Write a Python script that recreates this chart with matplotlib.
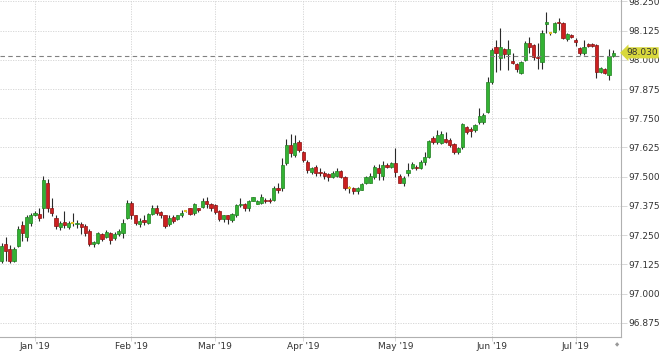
import numpy as np
import pandas as pd
import matplotlib
matplotlib.use("Agg")
import matplotlib.pyplot as plt

# daily OHLC, one per weekday from 2018-12-20 to 2019-07-12
dates = pd.bdate_range("2018-12-20", "2019-07-12")

opens = [97.140, 97.213, 97.192, 97.140, 97.205, 97.295, 97.243, 97.303, 97.338, 97.342,
         97.368, 97.475, 97.364, 97.325, 97.286, 97.308, 97.286, 97.303, 97.299, 97.299,
         97.290, 97.269, 97.213, 97.217, 97.256, 97.243, 97.260, 97.239, 97.256, 97.260,
         97.325, 97.389, 97.334, 97.299, 97.316, 97.303, 97.342, 97.368, 97.351, 97.334,
         97.299, 97.329, 97.321, 97.334, 97.355, 97.364, 97.346, 97.364, 97.372, 97.394,
         97.385, 97.377, 97.355, 97.321, 97.334, 97.316, 97.334, 97.377, 97.385, 97.364,
         97.398, 97.385, 97.389, 97.402, 97.402, 97.402, 97.450, 97.450, 97.557, 97.634,
         97.592, 97.647, 97.604, 97.561, 97.518, 97.540, 97.518, 97.514, 97.510, 97.497,
         97.505, 97.523, 97.497, 97.450, 97.450, 97.437, 97.445, 97.471, 97.475, 97.497,
         97.536, 97.505, 97.549, 97.540, 97.557, 97.505, 97.475, 97.514, 97.536, 97.540,
         97.536, 97.561, 97.583, 97.665, 97.647, 97.643, 97.660, 97.656, 97.639, 97.604,
         97.626, 97.712, 97.703, 97.699, 97.733, 97.733, 97.776, 97.905, 98.056, 98.009,
         98.047, 98.026, 97.996, 97.983, 97.944, 98.000, 98.073, 98.065, 98.013, 97.991,
         98.155, 98.116, 98.120, 98.163, 98.159, 98.090, 98.108, 98.086, 98.052, 98.030,
         98.069, 98.069, 98.065, 97.948, 97.961, 97.935, 98.017]
highs = [97.215, 97.243, 97.209, 97.200, 97.290, 97.312, 97.338, 97.346, 97.355, 97.364,
         97.505, 97.488, 97.407, 97.338, 97.312, 97.355, 97.312, 97.346, 97.316, 97.308,
         97.299, 97.278, 97.226, 97.265, 97.260, 97.273, 97.265, 97.265, 97.278, 97.320,
         97.402, 97.398, 97.338, 97.325, 97.338, 97.346, 97.377, 97.377, 97.355, 97.338,
         97.334, 97.338, 97.338, 97.359, 97.359, 97.368, 97.389, 97.368, 97.407, 97.411,
         97.389, 97.381, 97.359, 97.338, 97.338, 97.346, 97.381, 97.407, 97.389, 97.402,
         97.415, 97.402, 97.424, 97.407, 97.407, 97.458, 97.471, 97.579, 97.660, 97.682,
         97.677, 97.656, 97.608, 97.570, 97.540, 97.549, 97.536, 97.523, 97.514, 97.523,
         97.536, 97.527, 97.501, 97.458, 97.454, 97.454, 97.471, 97.501, 97.514, 97.549,
         97.553, 97.566, 97.557, 97.561, 97.621, 97.510, 97.501, 97.557, 97.561, 97.549,
         97.570, 97.604, 97.656, 97.673, 97.699, 97.695, 97.690, 97.665, 97.643, 97.626,
         97.729, 97.716, 97.712, 97.725, 97.794, 97.772, 97.926, 98.052, 98.086, 98.137,
         98.052, 98.086, 98.030, 97.987, 97.996, 98.082, 98.099, 98.069, 98.073, 98.129,
         98.206, 98.120, 98.163, 98.177, 98.163, 98.116, 98.112, 98.095, 98.056, 98.086,
         98.073, 98.073, 98.069, 97.970, 97.966, 98.047, 98.043]
lows = [97.131, 97.140, 97.131, 97.135, 97.200, 97.226, 97.226, 97.290, 97.330, 97.310,
        97.325, 97.350, 97.330, 97.278, 97.270, 97.282, 97.278, 97.290, 97.282, 97.256,
        97.248, 97.205, 97.200, 97.213, 97.226, 97.239, 97.213, 97.230, 97.248, 97.239,
        97.320, 97.321, 97.295, 97.286, 97.295, 97.299, 97.338, 97.338, 97.325, 97.282,
        97.290, 97.303, 97.316, 97.329, 97.351, 97.334, 97.338, 97.351, 97.364, 97.368,
        97.355, 97.342, 97.312, 97.308, 97.299, 97.308, 97.329, 97.372, 97.355, 97.355,
        97.394, 97.381, 97.381, 97.389, 97.389, 97.398, 97.432, 97.437, 97.549, 97.583,
        97.583, 97.604, 97.561, 97.514, 97.510, 97.505, 97.505, 97.488, 97.480, 97.493,
        97.497, 97.493, 97.445, 97.432, 97.428, 97.428, 97.441, 97.467, 97.471, 97.488,
        97.484, 97.484, 97.536, 97.536, 97.497, 97.471, 97.458, 97.505, 97.531, 97.527,
        97.531, 97.549, 97.579, 97.639, 97.639, 97.639, 97.643, 97.626, 97.596, 97.596,
        97.617, 97.682, 97.669, 97.690, 97.725, 97.725, 97.772, 97.896, 97.948, 97.957,
        98.009, 97.957, 97.983, 97.948, 97.940, 97.996, 98.030, 98.000, 97.961, 97.961,
        98.116, 98.108, 98.116, 98.129, 98.090, 98.082, 98.095, 98.060, 98.022, 98.022,
        98.056, 98.056, 97.922, 97.944, 97.940, 97.913, 98.013]
closes = [97.205, 97.183, 97.140, 97.192, 97.278, 97.260, 97.329, 97.338, 97.346, 97.325,
          97.484, 97.364, 97.346, 97.290, 97.303, 97.295, 97.303, 97.303, 97.303, 97.286,
          97.260, 97.213, 97.222, 97.260, 97.235, 97.265, 97.230, 97.256, 97.269, 97.303,
          97.389, 97.334, 97.303, 97.312, 97.308, 97.342, 97.368, 97.346, 97.334, 97.290,
          97.325, 97.312, 97.334, 97.346, 97.355, 97.342, 97.385, 97.359, 97.394, 97.381,
          97.364, 97.351, 97.321, 97.334, 97.321, 97.342, 97.377, 97.385, 97.364, 97.398,
          97.411, 97.398, 97.411, 97.394, 97.394, 97.450, 97.441, 97.549, 97.634, 97.600,
          97.643, 97.613, 97.570, 97.527, 97.536, 97.514, 97.514, 97.505, 97.497, 97.514,
          97.523, 97.497, 97.450, 97.450, 97.437, 97.450, 97.467, 97.497, 97.505, 97.540,
          97.514, 97.549, 97.540, 97.557, 97.518, 97.475, 97.493, 97.527, 97.553, 97.536,
          97.561, 97.583, 97.652, 97.647, 97.677, 97.682, 97.647, 97.634, 97.604, 97.622,
          97.725, 97.690, 97.695, 97.720, 97.759, 97.764, 97.905, 98.043, 98.030, 98.056,
          98.026, 98.047, 97.987, 97.961, 97.991, 98.073, 98.056, 98.013, 98.009, 98.116,
          98.163, 98.116, 98.159, 98.159, 98.095, 98.112, 98.099, 98.077, 98.030, 98.056,
          98.060, 98.060, 97.948, 97.966, 97.944, 98.017, 98.030]

last_price = 98.030
crosshair = 98.015
y_ticks = [96.875, 97.000, 97.125, 97.250, 97.375, 97.500, 97.625, 97.750, 97.875, 98.000, 98.125, 98.250]

o = np.array(opens)
h = np.array(highs)
l = np.array(lows)
c = np.array(closes)
x = np.arange(len(dates))

fig = plt.figure(figsize=(6.6, 3.53), dpi=100)
ax = fig.add_axes([0, 16 / 353, 621 / 660, 337 / 353])

grid_c = "#d2d2d2"
for v in y_ticks:
    ax.axhline(v, color=grid_c, lw=0.6, ls=(0, (1.5, 1.5)), zorder=0)

# month gridlines at the first trading day of each month
month_pos = []
month_lab = []
for m in range(1, 8):
    idx = np.where((dates.month == m) & (dates.year == 2019))[0][0]
    month_pos.append(idx)
    month_lab.append(dates[idx].strftime("%b '%y"))
for p in month_pos:
    ax.axvline(p, color=grid_c, lw=0.6, ls=(0, (1.5, 1.5)), zorder=0)

up = c > o
down = c < o
flat = c == o

ax.vlines(x, l, h, color="#2a2a2a", lw=0.8, zorder=1)
w = 0.76
ax.bar(x[up], (c - o)[up], bottom=o[up], width=w, color="#33b233",
       edgecolor="#1f801f", lw=0.5, zorder=2)
ax.bar(x[down], (o - c)[down], bottom=c[down], width=w, color="#cc2020",
       edgecolor="#8a1010", lw=0.5, zorder=2)
ax.hlines(c[flat], x[flat] - w / 2, x[flat] + w / 2, color="#e0c020", lw=1.5, zorder=2)

ax.axhline(crosshair, color="#808080", lw=0.8, ls=(0, (4, 3)), zorder=3)

ax.set_xlim(-0.36, 147.85)
ax.set_ylim(96.814, 98.256)

ax.set_yticks(y_ticks)
ax.set_yticklabels([f"{v:.3f}" for v in y_ticks])
ax.yaxis.tick_right()
ax.set_xticks(month_pos)
ax.set_xticklabels(month_lab)
ax.tick_params(axis="y", length=4, width=0.6, color=grid_c, pad=1.5,
               labelsize=6.5, labelcolor="#333333")
ax.tick_params(axis="x", length=3, width=0.6, color=grid_c, pad=0.5,
               labelsize=6.5, labelcolor="#333333")

for s in ["top", "left"]:
    ax.spines[s].set_visible(False)
for s in ["right", "bottom"]:
    ax.spines[s].set_color("#b0b0b0")
    ax.spines[s].set_linewidth(0.8)

ax.text(1.008, last_price, f"{last_price:.3f}", transform=ax.get_yaxis_transform(),
        fontsize=6.5, color="#333333", va="center", ha="left", zorder=5,
        bbox=dict(boxstyle="larrow,pad=0.12", fc="#d8d83c", ec="none"))
fig.text(617 / 660, 1 - 345 / 353, "\u25c6", fontsize=4, color="#999999",
         ha="center", va="center")

fig.savefig("out.png", dpi=100)
